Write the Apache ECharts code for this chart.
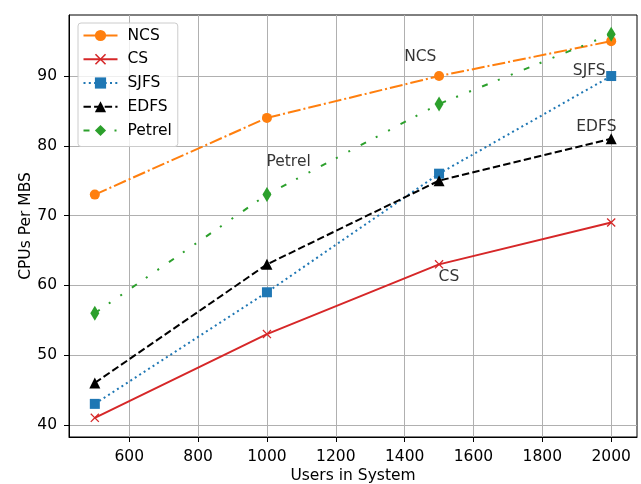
<!DOCTYPE html>
<html>
<head>
<meta charset="utf-8">
<script src="https://cdn.jsdelivr.net/npm/echarts@6/dist/echarts.min.js"></script>
<style>
  html, body { margin: 0; padding: 0; background: #fff; }
  #chart { width: 641px; height: 484px; }
</style>
</head>
<body>
<div id="chart"></div>
<script>
// data
var users = [500, 1000, 1500, 2000];
var ncs = [73, 84, 90, 95];
var cs = [41, 53, 63, 69];
var sjfs = [43, 59, 76, 90];
var edfs = [46, 63, 75, 81];
var petrel = [56, 73, 86, 96];

var xTicks = [600, 800, 1000, 1200, 1400, 1600, 1800, 2000];
var yTicks = [40, 50, 60, 70, 80, 90];

// text notes placed in the plot (left / baseline anchor)
var noteLabels = ['NCS', 'SJFS', 'EDFS', 'Petrel', 'CS'];
var noteX = [1400, 1890, 1900, 1000, 1500];
var noteY = [92, 90, 82, 77, 60.5];

var FONT = 'DejaVu Sans';
var FS = 15.5;
var xMark = 'path://M0,1 L1,0 L5,4 L9,0 L10,1 L6,5 L10,9 L9,10 L5,6 L1,10 L0,9 L4,5 Z';

function pairs(ys) {
  return users.map(function (u, i) { return [u, ys[i]]; });
}

function lineSeries(name, ys, color, dash, symbol, size) {
  return {
    name: name,
    type: 'line',
    data: pairs(ys),
    symbol: symbol,
    symbolSize: size,
    showAllSymbol: true,
    lineStyle: { color: color, width: 2, type: dash },
    itemStyle: { color: color, borderWidth: 0 },
    emphasis: { disabled: true },
    z: 3
  };
}

var myChart = echarts.init(document.getElementById('chart'), null, { renderer: 'canvas' });

var options = {
  animation: false,
  backgroundColor: '#fff',
  textStyle: { fontFamily: FONT },
  grid: {
    left: 69, right: 4, top: 15, bottom: 47,
    outerBoundsMode: 'none',
    containLabel: false,
    show: true, borderColor: '#000', borderWidth: 1
  },
  legend: {
    data: ['NCS', 'CS', 'SJFS', 'EDFS', 'Petrel'],
    orient: 'vertical',
    left: 78,
    top: 23,
    padding: [4.5, 6, 8, 4.5],
    itemWidth: 34,
    itemHeight: 14,
    itemGap: 7.75,
    backgroundColor: 'rgba(255,255,255,0.8)',
    borderColor: '#cccccc',
    borderWidth: 1,
    borderRadius: 3,
    textStyle: { fontFamily: FONT, fontSize: FS, color: '#000', padding: [0, 0, 0, 5] }
  },
  xAxis: {
    type: 'value',
    min: 425,
    max: 2075,
    name: 'Users in System',
    nameLocation: 'middle',
    nameGap: 31,
    nameMoveOverlap: false,
    nameTextStyle: { fontFamily: FONT, fontSize: FS, color: '#000' },
    axisLine: { show: true, onZero: false, lineStyle: { color: '#000', width: 1 } },
    axisTick: { show: true, length: 5, lineStyle: { color: '#000' }, customValues: xTicks },
    axisLabel: {
      fontFamily: FONT, fontSize: FS, color: '#000', margin: 12, customValues: xTicks,
      formatter: function (v) { return String(v); }
    },
    splitLine: { show: true, lineStyle: { color: '#b0b0b0', width: 1 } }
  },
  yAxis: {
    type: 'value',
    min: 38.25,
    max: 98.75,
    name: 'CPUs Per MBS',
    nameLocation: 'middle',
    nameGap: 35,
    nameMoveOverlap: false,
    nameTextStyle: { fontFamily: FONT, fontSize: FS, color: '#000' },
    axisLine: { show: true, onZero: false, lineStyle: { color: '#000', width: 1 } },
    axisTick: { show: true, length: 5, lineStyle: { color: '#000' }, customValues: yTicks },
    axisLabel: {
      fontFamily: FONT, fontSize: FS, color: '#000', margin: 12, customValues: yTicks,
      formatter: function (v) { return String(v); }
    },
    splitLine: { show: true, lineStyle: { color: '#b0b0b0', width: 1 } }
  },
  series: [
    lineSeries('NCS', ncs, '#ff7f0e', [13, 3, 2, 3], 'circle', 10),
    lineSeries('CS', cs, '#d62728', 'solid', xMark, 9),
    lineSeries('SJFS', sjfs, '#1f77b4', [2, 3.3], 'rect', 10),
    lineSeries('EDFS', edfs, '#000000', [7.4, 3.2], 'triangle', 11),
    lineSeries('Petrel', petrel, '#2ca02c', [6, 11, 2, 12, 2, 12], 'diamond', [9, 15]),
    {
      name: 'notes',
      type: 'scatter',
      data: noteX.map(function (x, i) { return { value: [x, noteY[i]], name: noteLabels[i] }; }),
      symbolSize: 1,
      itemStyle: { color: 'rgba(0,0,0,0)' },
      label: {
        show: true,
        formatter: '{b}',
        position: [0, 0],
        align: 'left',
        verticalAlign: 'bottom',
        offset: [0, 3.5],
        fontFamily: FONT,
        fontSize: FS,
        color: '#000'
      },
      emphasis: { disabled: true },
      silent: true,
      z: 4
    }
  ]
};

myChart.setOption(options);
</script>
</body>
</html>
